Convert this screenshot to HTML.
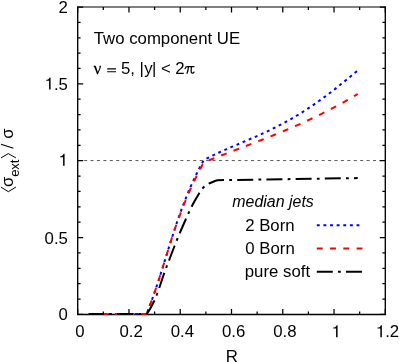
<!DOCTYPE html>
<html><head><meta charset="utf-8"><title>plot</title>
<style>
html,body{margin:0;padding:0;background:#fff;}
svg{display:block;will-change:transform;}
text{font-family:"Liberation Sans",sans-serif;font-size:16.8px;fill:#000;}
.it{font-style:italic;}
</style></head><body>
<svg width="399" height="362" viewBox="0 0 399 362">
<rect x="0" y="0" width="399" height="362" fill="#fff"/>

<line x1="77.7" y1="160.55" x2="385.3" y2="160.55" stroke="#222" stroke-width="0.75" stroke-dasharray="3 3.42"/>
<path d="M77.70,314.45 v-5.5 M77.70,7.0 v5.5 M103.33,314.45 v-2.9 M103.33,7.0 v2.9 M128.97,314.45 v-5.5 M128.97,7.0 v5.5 M154.60,314.45 v-2.9 M154.60,7.0 v2.9 M180.23,314.45 v-5.5 M180.23,7.0 v5.5 M205.87,314.45 v-2.9 M205.87,7.0 v2.9 M231.50,314.45 v-5.5 M231.50,7.0 v5.5 M257.13,314.45 v-2.9 M257.13,7.0 v2.9 M282.77,314.45 v-5.5 M282.77,7.0 v5.5 M308.40,314.45 v-2.9 M308.40,7.0 v2.9 M334.03,314.45 v-5.5 M334.03,7.0 v5.5 M359.67,314.45 v-2.9 M359.67,7.0 v2.9 M385.30,314.45 v-5.5 M385.30,7.0 v5.5 M77.7,314.45 h5.5 M385.3,314.45 h-5.5 M77.7,299.08 h2.9 M385.3,299.08 h-2.9 M77.7,283.70 h2.9 M385.3,283.70 h-2.9 M77.7,268.33 h2.9 M385.3,268.33 h-2.9 M77.7,252.96 h2.9 M385.3,252.96 h-2.9 M77.7,237.59 h5.5 M385.3,237.59 h-5.5 M77.7,222.21 h2.9 M385.3,222.21 h-2.9 M77.7,206.84 h2.9 M385.3,206.84 h-2.9 M77.7,191.47 h2.9 M385.3,191.47 h-2.9 M77.7,176.10 h2.9 M385.3,176.10 h-2.9 M77.7,160.72 h5.5 M385.3,160.72 h-5.5 M77.7,145.35 h2.9 M385.3,145.35 h-2.9 M77.7,129.98 h2.9 M385.3,129.98 h-2.9 M77.7,114.61 h2.9 M385.3,114.61 h-2.9 M77.7,99.23 h2.9 M385.3,99.23 h-2.9 M77.7,83.86 h5.5 M385.3,83.86 h-5.5 M77.7,68.49 h2.9 M385.3,68.49 h-2.9 M77.7,53.12 h2.9 M385.3,53.12 h-2.9 M77.7,37.75 h2.9 M385.3,37.75 h-2.9 M77.7,22.37 h2.9 M385.3,22.37 h-2.9 M77.7,7.00 h5.5 M385.3,7.00 h-5.5" stroke="#000" stroke-width="1.25" fill="none"/>
<path d="M77.7,6.43 V314.45 H385.3 V6.43" fill="none" stroke="#000" stroke-width="1.35" stroke-linecap="butt"/>
<path d="M77.03,7.0 H385.97" fill="none" stroke="#000" stroke-width="1.15"/>
<path d="M88.70,314.00 L146.00,314.00 L146.93,313.00 L148.11,310.00 L149.27,307.00 L150.40,304.00 L151.50,301.00 L152.59,298.00 L153.65,295.00 L154.69,292.00 L155.72,289.00 L156.73,286.00 L157.73,283.00 L158.71,280.00 L159.68,277.00 L160.64,274.00 L161.59,271.00 L162.53,268.00 L163.47,265.00 L164.40,262.00 L165.33,259.00 L166.26,256.00 L167.18,253.00 L168.11,250.00 L169.04,247.00 L169.98,244.00 L170.92,241.00 L171.87,238.00 L172.83,235.00 L173.79,232.00 L174.77,229.00 L175.76,226.00 L176.77,223.00 L177.79,220.00 L178.83,217.00 L179.89,214.00 L180.96,211.00 L182.06,208.00 L183.19,205.00 L184.33,202.00 L185.51,199.00 L186.71,196.00 L187.94,193.00 L189.20,190.00 L190.49,187.00 L191.82,184.00 L193.18,181.00 L194.57,178.00 L196.01,175.00 L197.48,172.00 L199.00,169.00 L200.56,166.00 L202.16,163.00 L203.64,160.30 L206.50,158.63 L209.50,157.09 L212.50,155.60 L215.50,154.16 L218.50,152.76 L221.50,151.39 L224.50,150.05 L227.50,148.73 L230.50,147.44 L233.50,146.15 L236.50,144.88 L239.50,143.61 L242.50,142.34 L245.50,141.07 L248.50,139.78 L251.50,138.49 L254.50,137.18 L257.50,135.85 L260.50,134.51 L263.50,133.13 L266.50,131.73 L269.50,130.30 L272.50,128.84 L275.50,127.34 L278.50,125.81 L281.50,124.24 L284.50,122.63 L287.50,120.97 L290.50,119.28 L293.50,117.54 L296.50,115.76 L299.50,113.94 L302.50,112.06 L305.50,110.15 L308.50,108.19 L311.50,106.18 L314.50,104.13 L317.50,102.04 L320.50,99.90 L323.50,97.72 L326.50,95.50 L329.50,93.24 L332.50,90.94 L335.50,88.60 L338.50,86.23 L341.50,83.83 L344.50,81.39 L347.50,78.93 L350.50,76.45 L353.50,73.94 L356.50,71.42 L357.70,70.40" stroke="#00f" stroke-width="2" fill="none" stroke-dasharray="2.9 3.72" stroke-linejoin="round"/>
<path d="M88.70,314.00 L146.00,314.00 L146.93,313.00 L148.11,310.00 L149.27,307.00 L150.40,304.00 L151.50,301.00 L152.59,298.00 L153.65,295.00 L154.69,292.00 L155.72,289.00 L156.73,286.00 L157.73,283.00 L158.71,280.00 L159.68,277.00 L160.64,274.00 L161.59,271.00 L162.53,268.00 L163.47,265.00 L164.40,262.00 L165.33,259.00 L166.26,256.00 L167.18,253.00 L168.11,250.00 L169.04,247.00 L169.98,244.00 L170.92,241.00 L171.87,238.00 L172.83,235.00 L173.85,232.00 L174.88,229.00 L175.93,226.00 L176.99,223.00 L178.07,220.00 L179.16,217.00 L180.27,214.00 L181.41,211.00 L182.56,208.00 L183.74,205.00 L184.94,202.00 L186.17,199.00 L187.43,196.00 L188.71,193.00 L190.03,190.00 L191.38,187.00 L192.76,184.00 L194.17,181.00 L195.63,178.00 L197.12,175.00 L198.65,172.00 L200.20,169.00 L201.76,166.00 L203.36,163.00 L207.50,160.89 L210.50,159.70 L213.50,158.52 L216.50,157.34 L219.50,156.18 L222.50,155.02 L225.50,153.86 L228.50,152.70 L231.50,151.55 L234.50,150.40 L237.50,149.25 L240.50,148.10 L243.50,146.95 L246.50,145.80 L249.50,144.64 L252.50,143.49 L255.50,142.32 L258.50,141.15 L261.50,139.98 L264.50,138.80 L267.50,137.61 L270.50,136.41 L273.50,135.21 L276.50,133.99 L279.50,132.76 L282.50,131.52 L285.50,130.27 L288.50,129.00 L291.50,127.72 L294.50,126.42 L297.50,125.11 L300.50,123.77 L303.50,122.42 L306.50,121.06 L309.50,119.67 L312.50,118.26 L315.50,116.83 L318.50,115.37 L321.50,113.90 L324.50,112.40 L327.50,110.87 L330.50,109.32 L333.50,107.74 L336.50,106.14 L339.50,104.50 L342.50,102.84 L345.50,101.14 L348.50,99.42 L351.50,97.66 L354.50,95.87 L357.50,94.05 L357.70,93.92" stroke="#f00" stroke-width="2" fill="none" stroke-dasharray="5.9 7.35" stroke-linejoin="round"/>
<path d="M88.70,314.00 L146.00,314.00 L147.12,313.50 L148.76,311.00 L150.27,308.50 L151.66,306.00 L152.94,303.50 L154.13,301.00 L155.24,298.50 L156.27,296.00 L157.25,293.50 L158.17,291.00 L159.05,288.50 L159.91,286.00 L160.74,283.50 L161.57,281.00 L162.40,278.50 L163.24,276.00 L164.11,273.50 L165.00,271.00 L165.93,268.50 L166.88,266.00 L167.84,263.50 L168.80,261.00 L169.76,258.50 L170.71,256.00 L171.66,253.50 L172.61,251.00 L173.57,248.50 L174.53,246.00 L175.51,243.50 L176.50,241.00 L177.52,238.50 L178.55,236.00 L179.60,233.50 L180.66,231.00 L181.74,228.50 L182.83,226.00 L183.93,223.50 L185.03,221.00 L186.14,218.50 L187.25,216.00 L188.38,213.50 L189.53,211.00 L190.73,208.50 L191.97,206.00 L193.27,203.50 L194.65,201.00 L196.10,198.50 L197.60,196.00 L199.07,193.50 L200.52,191.00 L202.33,188.50 L204.99,186.00 L209.04,183.50 L215.02,181.00 L217.30,180.20 L357.70,178.10" stroke="#000" stroke-width="2" fill="none" stroke-dasharray="16 5.2 2.8 5.2" stroke-dashoffset="0.8" stroke-linejoin="round"/>
<text x="75.23" y="337.40">0</text>
<text x="119.49" y="337.40">0.2</text>
<text x="170.76" y="337.40">0.4</text>
<text x="222.02" y="337.40">0.6</text>
<text x="273.29" y="337.40">0.8</text>
<path d="M337.59,337.20 L336.08,337.20 L336.08,328.58 L333.26,328.58 L333.26,327.50 C335.01,327.50 336.27,326.71 336.59,325.15 L337.59,325.15 Z" fill="#000"/>
<path d="M381.86,337.20 L380.34,337.20 L380.34,328.58 L377.52,328.58 L377.52,327.50 C379.27,327.50 380.53,326.71 380.85,325.15 L381.86,325.15 Z" fill="#000"/>
<text x="385.16" y="337.40">.2</text>
<text x="58.56" y="320.25">0</text>
<text x="44.55" y="243.59">0.5</text>
<path d="M64.59,165.83 L63.08,165.83 L63.08,157.21 L60.26,157.21 L60.26,156.13 C62.00,156.13 63.26,155.34 63.58,153.78 L64.59,153.78 Z" fill="#000"/>
<path d="M50.58,89.46 L49.07,89.46 L49.07,80.84 L46.24,80.84 L46.24,79.76 C47.99,79.76 49.25,78.98 49.57,77.42 L50.58,77.42 Z" fill="#000"/>
<text x="53.89" y="89.66">.5</text>
<text x="58.56" y="12.80">2</text>
<text x="231.7" y="362.3" text-anchor="middle">R</text>
<text x="93.73" y="43.70">Two component UE</text>
<path d="M93.2,66.5 L94.8,65.5 L95.9,66.3 L97.8,72.0 L99.6,67.8 L99.4,66.0 L100.6,65.6 L101.0,66.8 L100.3,68.8 L97.9,74.2 L97.0,74.2 L94.3,67.0 Z" fill="#000"/>
<path d="M107.2,68.9 H116 M107.2,71.8 H116" stroke="#000" stroke-width="1.1" fill="none"/>
<text x="120.93" y="74.20">5,</text>
<text x="139.50" y="74.20">|</text>
<text x="144.25" y="74.20">y</text>
<text x="151.90" y="74.20">|</text>
<text x="161.08" y="74.20">&lt;</text>
<text x="175.36" y="74.20">2</text>
<path d="M185.1,68.6 C185.5,67.2 186.3,66.7 187.5,66.7 H193.9 M188.5,66.8 C188.3,69 187.9,71.5 187.0,73.3 M191.4,66.8 C191.2,69 190.9,71.5 191.4,72.7 C192,73.5 193.3,73.3 194.0,72.1" stroke="#000" stroke-width="1.25" fill="none" stroke-linecap="round"/>
<text x="232.33" y="206.90" class="it" style="font-size:15.95px">median jets</text>
<text x="245.16" y="230.60">2 Born</text>
<text x="245.34" y="254.40">0 Born</text>
<text x="244.79" y="277.20">pure soft</text>
<line x1="316.8" y1="225.2" x2="359.5" y2="225.2" stroke="#00f" stroke-width="2" stroke-dasharray="2.9 3.72"/>
<line x1="316.8" y1="248.4" x2="362.5" y2="248.4" stroke="#f00" stroke-width="2" stroke-dasharray="5.9 7.35"/>
<line x1="316.8" y1="271.7" x2="362.2" y2="271.7" stroke="#000" stroke-width="2" stroke-dasharray="16 5.2 2.8 5.2"/>
<g transform="translate(13.2,192.5) rotate(-90)">
<path d="M5.4,-12.2 L0.8,-4.9 L5.4,2.7 M34.6,-12.2 L38.9,-4.9 L34.6,2.7" stroke="#000" stroke-width="1" fill="none"/>
<text x="5.59" y="0.00">σ</text>
<text x="15.65" y="5.50" style="font-size:13.0px">ext</text>
<path d="M44.3,0.2 L48.3,-12.2" stroke="#000" stroke-width="1.15" fill="none"/>
<text x="53.79" y="0.00">σ</text>
</g>
</svg></body></html>
